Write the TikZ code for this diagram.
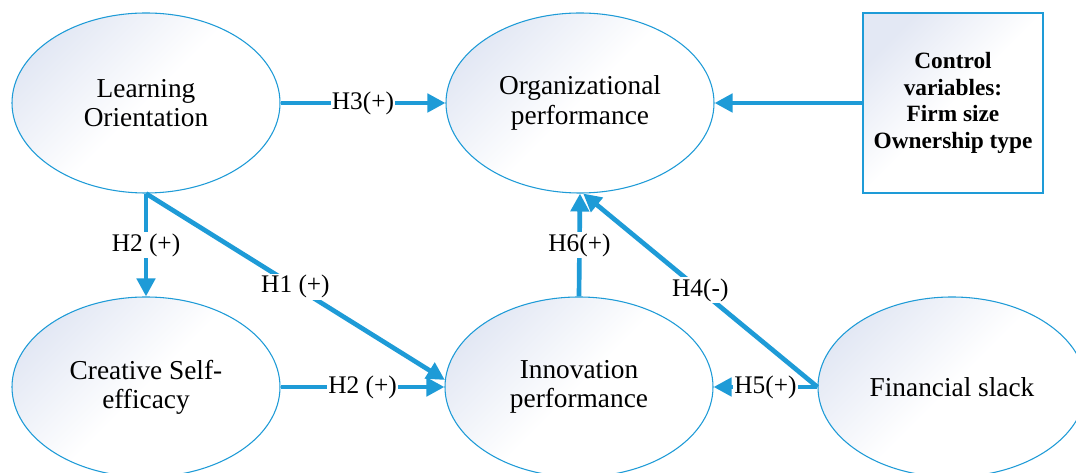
\documentclass[tikz,border=0pt]{standalone}
\usepackage{fontspec}
\setmainfont{Liberation Serif}
\usetikzlibrary{shapes.geometric,arrows.meta}
\definecolor{lineblue}{HTML}{1E9BD7}
\definecolor{shadeblue}{HTML}{E3E8F4}
\tikzset{
  var/.style={ellipse, draw=lineblue, line width=0.8pt, top color=shadeblue, bottom color=white,
    middle color=white, shading angle=45, minimum width=201pt, minimum height=135pt, align=center,
    font=\fontsize{20.5}{22}\selectfont, inner sep=0pt},
  ctrlbox/.style={rectangle, draw=lineblue, line width=0.8pt, top color=shadeblue, bottom color=white,
    middle color=white, shading angle=45, minimum width=135pt, minimum height=135pt, align=center,
    font=\bfseries\fontsize{17.5}{20}\selectfont, inner sep=0pt},
  link/.style={draw=lineblue, line width=3.5pt, -{Triangle[length=13.5pt,width=13.5pt]}},
  lbl/.style={fill=white, inner sep=1pt, font=\fontsize{19}{22}\selectfont}
}
\begin{document}
\begin{tikzpicture}[x=0.75pt,y=-0.75pt]
\useasboundingbox (0,0) rectangle (1076,473);
\clip (0,0) rectangle (1076,473);
\fill[white] (0,0) rectangle (1076,473);
\node[var] (LO) at (146,103) {Learning\\Orientation};
\node[var] (OP) at (580,103) {Organizational\\performance};
\node[var] (CSE) at (146,387) {Creative Self-\\efficacy};
\node[var] (IP) at (579,387) {Innovation\\performance};
\node[var] (FS) at (952,387) {Financial slack};
\node[ctrlbox] (CV) at (953,103) {Control\\variables:\\Firm size\\Ownership type};

\draw[link] (LO.east) -- node[lbl] {H3(+)} (OP.west);
\draw[link] (CV.west) -- (OP.east);
\draw[link] (LO.south) -- node[lbl] {H2 (+)} (CSE.north);
\draw[link] (LO.south) -- node[lbl] {H1 (+)} (IP.177);
\draw[link] (CSE.east) -- node[lbl] {H2 (+)} (IP.west);
\draw[link] (IP.north) -- node[lbl] {H6(+)} (OP.south);
\draw[link] (FS.west) -- node[lbl] {H4(-)} (OP.272);
\draw[link] (FS.west) -- node[lbl] {H5(+)} (IP.east);
\end{tikzpicture}
\end{document}
